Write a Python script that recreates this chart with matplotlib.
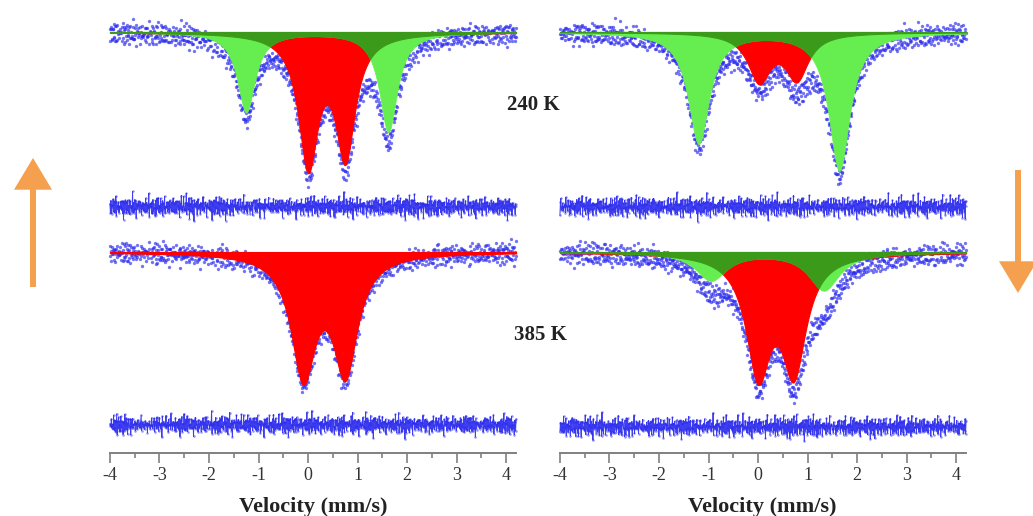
import numpy as np
import matplotlib.pyplot as plt
from matplotlib.patches import FancyArrowPatch

# velocity window of the spectra (mm/s) and number of channels
v_start, v_stop, n_chan = -4.0, 4.2, 900

# panels: top-left, top-right (240 K), bottom-left, bottom-right (385 K)
panel_col = [0, 1, 0, 1]
baseline = [421, 421, 201, 201]      # spectrum baseline (counts, axis units)
resid_level = [246, 246, 28, 26]     # level of the residual trace

# red doublet: two centres (mm/s), two depths, half width (mm/s)
red_c1 = [0.0, 0.02, -0.10, 0.0]
red_c2 = [0.75, 0.78, 0.75, 0.72]
red_d1 = [130, 47, 120, 116]
red_d2 = [121, 45, 116, 113]
red_hw = [0.24, 0.28, 0.30, 0.30]

# green doublet
green_c1 = [-1.25, -1.20, 0.0, -0.95]
green_c2 = [1.62, 1.64, 0.0, 1.33]
green_d1 = [80, 111, 0, 28]
green_d2 = [100, 138, 0, 38]
green_hw = [0.22, 0.26, 0.30, 0.38]

# scatter of the measured points and of the residuals around the fit
scatter_noise = [3, -5, 1, 6, -2, -7, 4, 0, -3, 8, -1, 5, -6, 2, -4, 7, -8, 1, 3, -2,
                 5, -5, 0, 6, -3, 2, -7, 4, -1, 9, -4, 1, 6, -6, 2, -2, 5, -3, 7, -5,
                 0, 3, -8, 4, -1, 6, -4, 2, -6, 1, 8, -3, 5, -2, -5, 3, 0, 7, -7, 2,
                 -1, 4, -4, 6, -2, 1, -9, 5, 3, -6, 2, -3, 7, 0, -5, 4, -1, 6, -3, 2,
                 -7, 5, 1, -4, 3, -2, 8, -6, 0, 4, -3, 2, -5, 7, -1, 3, -8, 1, 5, -4,
                 2, 6, -2, -6, 4, 0, -3, 9, -5, 1, 3, -7, 6, -1, 2, -4, 5, -2, 7, -6,
                 0, 4, -3, 1, -5, 8, -2, 3, -7, 2, 6, -4, 1, -1, 5, -6, 3, 0, -3, 7,
                 -5, 2, 4, -8, 1, -2, 6, -4, 3, -1, 5, -7, 0, 2, -3, 6, -5, 4, 12, -2]
resid_noise = [2, -4, 6, -1, -6, 3, 0, 8, -3, 1, -5, 4, -2, 10, -7, 2, 5, -3, -1, 6,
               -8, 3, 1, -4, 7, -2, 0, 4, -6, 2, -11, 5, 1, -3, 6, -1, 3, -5, 2, 9,
               -4, 0, -2, 5, -7, 3, 1, -1, 4, -6, 12, -3, 2, -5, 0, 6, -2, 3, -8, 1,
               4, -4, 2, -1, 7, -5, 0, 3, -3, 5, -9, 2, 1, -2, 6, -6, 3, 0, -4, 8,
               -1, 2, -5, 4, -3, 1, 10, -7, 3, -2, 5, 0, -4, 2, -6, 6, -1, 3, -3, 1,
               -10, 4, 2, -5, 7, -2, 0, 5, -3, 1, -7, 3, 6, -4, 2, -1, 4, -8, 1, 3,
               -2, 9, -5, 0, 2, -3, 6, -6, 1, 4, -1, -4, 3, 7, -2, 0, -5, 5, -3, 2,
               11, -6, 1, -2, 4, -4, 3, 0, -7, 6, -1, 2, -3, 5, -9, 1]
noise_shift = [0, 37, 71, 113]

tick_values = [-4, -3, -2, -1, 0, 1, 2, 3, 4]
temp_labels = ['240 K', '385 K']

RED = '#ff0000'
LIGHT_GREEN = '#66ee50'
DARK_GREEN = '#3c9a1a'
BLUE = '#2a2aee'
ORANGE = '#f5a04e'


def lorentz(v, c, d, hw):
    return d / (1 + ((v - c) / hw) ** 2)


fig = plt.figure(figsize=(10.33, 5.16), dpi=100)
serif = ['Liberation Serif', 'DejaVu Serif']

axes = []
for left in [105 / 1033, 555 / 1033]:
    ax = fig.add_axes([left, 63 / 516, 416 / 1033, 453 / 516])
    ax.set_xlim(-4.1, 4.3)
    ax.set_ylim(0, 453)
    for s in ['top', 'left', 'right']:
        ax.spines[s].set_visible(False)
    ax.spines['bottom'].set_color('#808080')
    ax.spines['bottom'].set_linewidth(1.4)
    ax.spines['bottom'].set_bounds(-4, 4.2)
    ax.set_yticks([])
    ax.set_xticks(tick_values)
    ax.set_xticklabels([str(t) for t in tick_values], family=serif, fontsize=13, color='#333333')
    ax.set_xticks(np.arange(-3.5, 4.0, 1.0), minor=True)
    ax.tick_params(axis='x', which='major', direction='out', length=7, width=1.2, color='#808080', pad=3)
    ax.tick_params(axis='x', which='minor', direction='out', length=3.5, width=1.2, color='#808080')
    ax.patch.set_alpha(0)
    axes.append(ax)

v = np.linspace(v_start, v_stop, n_chan)
idx = np.arange(n_chan)
sc = np.array(scatter_noise, dtype=float)
rn = np.array(resid_noise, dtype=float)

for i in range(4):
    ax = axes[panel_col[i]]
    red = lorentz(v, red_c1[i], red_d1[i], red_hw[i]) + lorentz(v, red_c2[i], red_d2[i], red_hw[i])
    green = lorentz(v, green_c1[i], green_d1[i], green_hw[i]) + lorentz(v, green_c2[i], green_d2[i], green_hw[i])
    b = baseline[i]

    k = noise_shift[i]
    pts = 1.1 * sc[(idx + k) % len(sc)] + 0.5 * rn[(idx + 2 * k) % len(rn)]
    res = rn[(idx + k) % len(rn)] + 0.45 * sc[(idx + 3 * k) % len(sc)]

    ax.plot(v, b - red - green + pts, 'o', ms=2.4, mew=0, color=BLUE, alpha=0.65, zorder=1)
    ax.plot(v, resid_level[i] + res, '-', lw=0.7, color=BLUE, alpha=0.9, zorder=1)
    ax.plot(v, resid_level[i] + res, 'o', ms=1.8, mew=0, color=BLUE, alpha=0.5, zorder=1)

    ax.fill_between(v, b, b - red, color=RED, lw=0.8, zorder=2)
    if green_d1[i] > 0:
        ax.fill_between(v, b, b - green, color=LIGHT_GREEN, lw=0.5, zorder=3)
        ax.fill_between(v, b, b - np.minimum(green, red), color=DARK_GREEN, lw=0.8, zorder=4)

# temperature labels between the columns
fig.text(533 / 1033, 1 - 105 / 516, temp_labels[0], family=serif, fontsize=15,
         fontweight='bold', ha='center', va='center', color='#222222')
fig.text(540 / 1033, 1 - 335 / 516, temp_labels[1], family=serif, fontsize=15,
         fontweight='bold', ha='center', va='center', color='#222222')

for xc in [313, 762]:
    fig.text(xc / 1033, 1 - 507 / 516, 'Velocity (mm/s)', family=serif, fontsize=16,
             fontweight='bold', ha='center', va='center', color='#222222')

# orange arrows at the sides
for (x0, y0, x1, y1) in [(33, 287, 33, 158), (1018, 170, 1018, 293)]:
    arr = FancyArrowPatch((x0 / 1033, 1 - y0 / 516), (x1 / 1033, 1 - y1 / 516),
                          transform=fig.transFigure,
                          arrowstyle='-|>,head_width=0.45,head_length=0.75',
                          mutation_scale=22, lw=4.3, color=ORANGE,
                          shrinkA=0, shrinkB=0, joinstyle='miter', capstyle='butt')
    fig.add_artist(arr)

fig.savefig('out.png', dpi=100)
